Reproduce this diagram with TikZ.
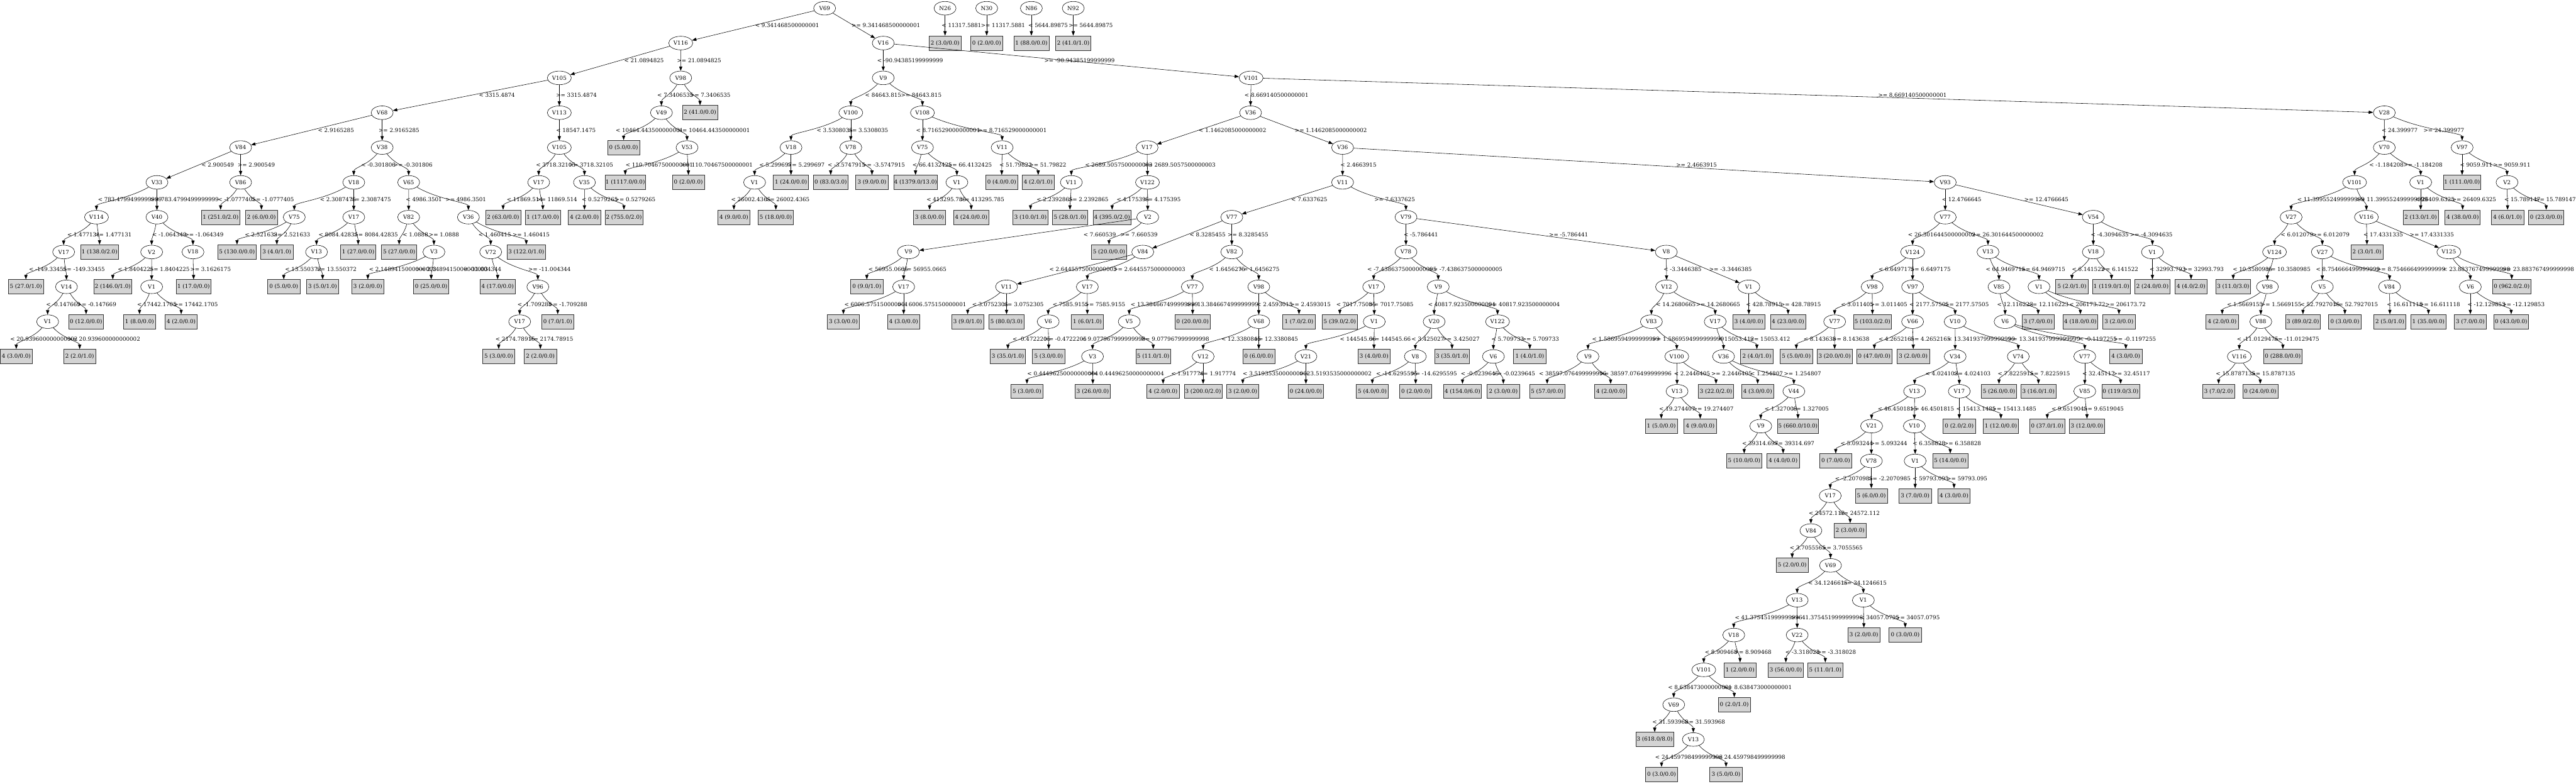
\documentclass[tikz,border=0pt]{standalone}
\usepackage{fontspec}
\setmainfont{DejaVu Serif}
\newfontfamily\tms{Liberation Serif}
\usetikzlibrary{shapes.geometric,arrows.meta,calc}
\definecolor{lgray}{HTML}{D3D3D3}
\newlength\lw
\newcommand\lbox[1]{\settowidth\lw{\tms\fontsize{14}{16}\selectfont #1}\addtolength\lw{22pt}\makebox[\lw]{#1}}
\newcounter{labc}
\newcommand\elb[3]{\stepcounter{labc}\node[elab] (lab\arabic{labc}) at (#1,#2) {#3};}
\newcommand\lfn[4]{\node[lnode] (#1) at (#2,#3) {\lbox{#4}};}
\newcommand\vnn[4]{\node[vnode] (#1) at (#2,#3) {#4};}
\newcommand\vwn[4]{\node[vnode,minimum width=60pt] (#1) at (#2,#3) {#4};}
\newcommand\eS[2]{\draw[conn] (#1) -- (#2);}
\newcommand\eC[2]{\draw[conn] (#1) .. controls ($(#1)!0.5!(#2)$) and ($(#2)+(0,-0.42)$) .. (#2);}
\tikzset{
  vnode/.style={ellipse, draw, line width=0.9pt, minimum width=55pt, minimum height=34pt, inner sep=0pt},
  lnode/.style={rectangle, draw=black!80, line width=1.1pt, fill=lgray, minimum height=36pt, inner sep=0pt},
  elab/.style={anchor=west, inner sep=0pt},
  conn/.style={-{Triangle[length=11pt,width=8pt]}, line width=0.9pt}
}
\begin{document}
\begin{tikzpicture}[x=1pt,y=-87pt,font=\fontsize{13.7}{16}\selectfont]
\fill[white] (0,-0.2368) rectangle (6434,22.269);
\useasboundingbox (0,-0.2368) rectangle (6434,22.269);
% row 0
\vnn{r}{2059.7}{0}{V69}
\vnn{n26}{2360.4}{0}{N26}
\vnn{n30}{2464.4}{0}{N30}
\vnn{n86}{2576}{0}{N86}
\vnn{n92}{2680.6}{0}{N92}
% row 1
\vwn{a116}{1700.2}{1}{V116}
\vnn{b16}{2206}{1}{V16}
\lfn{x1}{2360.4}{1}{2 (3.0/0.0)}
\lfn{x2}{2464.4}{1}{0 (2.0/0.0)}
\lfn{x3}{2576}{1}{1 (88.0/0.0)}
\lfn{x4}{2680.6}{1}{2 (41.0/1.0)}
% row 2
\vwn{a105}{1397}{2}{V105}
\vnn{a98}{1700.2}{2}{V98}
\vnn{b9}{2206}{2}{V9}
\vwn{c101}{3124.8}{2}{V101}
% row 3
\vnn{a68}{954.5}{3}{V68}
\vwn{a113}{1397}{3}{V113}
\vnn{a49}{1652}{3}{V49}
\lfn{x5}{1748.4}{3}{2 (41.0/0.0)}
\vwn{b100}{2125}{3}{V100}
\vwn{b108}{2304}{3}{V108}
\vnn{c36}{3123.5}{3}{V36}
\vnn{d28}{5955.2}{3}{V28}
% row 4
\vnn{a84}{601}{4}{V84}
\vnn{a38}{954.5}{4}{V38}
\vwn{a105b}{1397}{4}{V105}
\lfn{x6}{1557.6}{4}{0 (5.0/0.0)}
\vnn{a53}{1716}{4}{V53}
\vnn{b18}{1975.6}{4}{V18}
\vnn{b78}{2125}{4}{V78}
\vnn{b75}{2304}{4}{V75}
\vnn{b11}{2503}{4}{V11}
\vnn{c17}{2865}{4}{V17}
\vnn{c36b}{3353.3}{4}{V36}
\vnn{d70}{5955.2}{4}{V70}
\vnn{d97}{6149.5}{4}{V97}
% row 5
\vnn{a33}{392}{5}{V33}
\vnn{a86}{601}{5}{V86}
\vnn{a18}{883.6}{5}{V18}
\vnn{a65}{1020.7}{5}{V65}
\vnn{a17}{1345.5}{5}{V17}
\vnn{a35}{1459.8}{5}{V35}
\lfn{x7}{1561.7}{5}{1 (1117.0/0.0)}
\lfn{x8}{1719.4}{5}{0 (2.0/0.0)}
\vnn{b1}{1884.7}{5}{V1}
\lfn{x9}{1975.6}{5}{1 (24.0/0.0)}
\lfn{x10}{2074.8}{5}{0 (83.0/3.0)}
\lfn{x11}{2177.9}{5}{3 (9.0/0.0)}
\lfn{x12}{2286.7}{5}{4 (1379.0/13.0)}
\vnn{b1b}{2390}{5}{V1}
\lfn{x13}{2502}{5}{0 (4.0/0.0)}
\lfn{x14}{2593}{5}{4 (2.0/1.0)}
\vnn{c11}{2675.8}{5}{V11}
\vwn{c122}{2866}{5}{V122}
\vnn{c11b}{3353.3}{5}{V11}
\vnn{e93}{4858.5}{5}{V93}
\vwn{d101}{5880.9}{5}{V101}
\vnn{d1}{6046}{5}{V1}
\lfn{x15}{6149.5}{5}{1 (111.0/0.0)}
\vnn{d2}{6261.7}{5}{V2}
% row 6
\vwn{a114}{241}{6}{V114}
\vnn{a40}{392}{6}{V40}
\lfn{x16}{551}{6}{1 (251.0/2.0)}
\lfn{x17}{653}{6}{2 (6.0/0.0)}
\vnn{a75}{735}{6}{V75}
\vnn{a17b}{883.6}{6}{V17}
\vnn{a82}{1020.7}{6}{V82}
\vnn{a36}{1169.9}{6}{V36}
\lfn{x18}{1256.6}{6}{2 (63.0/0.0)}
\lfn{x19}{1355.8}{6}{1 (17.0/0.0)}
\lfn{x20}{1459.8}{6}{4 (2.0/0.0)}
\lfn{x21}{1558.3}{6}{2 (755.0/2.0)}
\lfn{x22}{1833}{6}{4 (9.0/0.0)}
\lfn{x23}{1937.8}{6}{5 (18.0/0.0)}
\lfn{x24}{2321.8}{6}{3 (8.0/0.0)}
\lfn{x25}{2425.8}{6}{4 (24.0/0.0)}
\lfn{x26}{2573.9}{6}{3 (10.0/1.0)}
\lfn{x27}{2672.4}{6}{5 (28.0/1.0)}
\lfn{x28}{2777.7}{6}{4 (395.0/2.0)}
\vnn{c2}{2866.6}{6}{V2}
\vnn{c77}{3076.6}{6}{V77}
\vnn{c79}{3511.6}{6}{V79}
\vnn{e77}{4858.5}{6}{V77}
\vnn{e54}{5228.3}{6}{V54}
\vnn{d27}{5722.4}{6}{V27}
\vwn{d116}{5910.5}{6}{V116}
\lfn{x29}{6046}{6}{2 (13.0/1.0)}
\lfn{x30}{6150.8}{6}{4 (38.0/0.0)}
\lfn{x31}{6263}{6}{4 (6.0/1.0)}
\lfn{x32}{6359.5}{6}{0 (23.0/0.0)}
% row 7
\vnn{a17c}{159}{7}{V17}
\lfn{x33}{248.6}{7}{1 (138.0/2.0)}
\vnn{a2}{378.8}{7}{V2}
\vnn{a18b}{482}{7}{V18}
\lfn{x34}{592}{7}{5 (130.0/0.0)}
\lfn{x35}{691.5}{7}{3 (4.0/1.0)}
\vnn{a13}{790.6}{7}{V13}
\lfn{x36}{894.6}{7}{1 (27.0/0.0)}
\lfn{x37}{997}{7}{5 (27.0/0.0)}
\vnn{a3}{1083.8}{7}{V3}
\vnn{a72}{1225.6}{7}{V72}
\lfn{x38}{1314.5}{7}{3 (122.0/1.0)}
\vnn{c9}{2268.8}{7}{V9}
\lfn{x39}{2770}{7}{5 (20.0/0.0)}
\vnn{c84}{2854.2}{7}{V84}
\vnn{c82}{3076.6}{7}{V82}
\vnn{c78}{3511.6}{7}{V78}
\vnn{c8}{4161.8}{7}{V8}
\vwn{e124}{4777}{7}{V124}
\vnn{e13}{4965.3}{7}{V13}
\vnn{e18}{5228.3}{7}{V18}
\vnn{e1}{5376}{7}{V1}
\vwn{d124}{5681}{7}{V124}
\vnn{d27b}{5800.3}{7}{V27}
\lfn{x40}{5911.8}{7}{2 (3.0/1.0)}
\vwn{d125}{6116.4}{7}{V125}
% row 8
\lfn{x41}{64.7}{8}{5 (27.0/1.0)}
\vnn{a14}{166}{8}{V14}
\lfn{x42}{281.7}{8}{2 (146.0/1.0)}
\vnn{a1}{378.8}{8}{V1}
\lfn{x43}{483.5}{8}{1 (17.0/0.0)}
\lfn{x44}{708.7}{8}{0 (5.0/0.0)}
\lfn{x45}{805.8}{8}{3 (5.0/1.0)}
\lfn{x46}{918.7}{8}{3 (2.0/0.0)}
\lfn{x47}{1077}{8}{0 (25.0/0.0)}
\lfn{x48}{1242.9}{8}{4 (17.0/0.0)}
\vnn{a96}{1343.4}{8}{V96}
\lfn{x49}{2165}{8}{0 (9.0/1.0)}
\vnn{c17b}{2257}{8}{V17}
\vnn{c11c}{2514}{8}{V11}
\vnn{c17c}{2715.8}{8}{V17}
\vnn{c77b}{2978}{8}{V77}
\vnn{c98}{3144}{8}{V98}
\vnn{c17d}{3431}{8}{V17}
\vnn{c9b}{3592.2}{8}{V9}
\vnn{c12}{4162.5}{8}{V12}
\vnn{c1}{4368}{8}{V1}
\vnn{e98}{4676}{8}{V98}
\vnn{e97}{4777}{8}{V97}
\vnn{e85}{4992.8}{8}{V85}
\vnn{e1b}{5092.7}{8}{V1}
\lfn{x50}{5175}{8}{5 (2.0/1.0)}
\lfn{x51}{5273.8}{8}{1 (119.0/1.0)}
\lfn{x52}{5376}{8}{2 (24.0/0.0)}
\lfn{x53}{5472.5}{8}{4 (4.0/2.0)}
\lfn{x54}{5577.8}{8}{3 (11.0/3.0)}
\vnn{d98}{5663.2}{8}{V98}
\vnn{d5}{5800.3}{8}{V5}
\vnn{d84}{5968.3}{8}{V84}
\vnn{d6}{6170}{8}{V6}
\lfn{x55}{6273.4}{8}{0 (962.0/2.0)}
% row 9
\vnn{a1b}{119}{9}{V1}
\lfn{x56}{215}{9}{0 (12.0/0.0)}
\lfn{x57}{348.5}{9}{1 (8.0/0.0)}
\lfn{x58}{452.5}{9}{4 (2.0/0.0)}
\vnn{a17d}{1298}{9}{V17}
\lfn{x59}{1393}{9}{0 (7.0/1.0)}
\lfn{x60}{2106.5}{9}{3 (3.0/0.0)}
\lfn{x61}{2257}{9}{4 (3.0/0.0)}
\lfn{x62}{2416.9}{9}{3 (9.0/1.0)}
\lfn{x63}{2514}{9}{5 (80.0/3.0)}
\vnn{c6}{2618}{9}{V6}
\lfn{x64}{2715.8}{9}{1 (6.0/1.0)}
\vnn{c5}{2820.4}{9}{V5}
\lfn{x65}{2978.8}{9}{0 (20.0/0.0)}
\vnn{c68}{3144}{9}{V68}
\lfn{x66}{3244.4}{9}{1 (7.0/2.0)}
\lfn{x67}{3346.4}{9}{5 (39.0/2.0)}
\vnn{c1b}{3432.4}{9}{V1}
\vnn{c20}{3582}{9}{V20}
\vwn{c122b}{3740.3}{9}{V122}
\vnn{c83}{4124.6}{9}{V83}
\vnn{c17e}{4284}{9}{V17}
\lfn{x68}{4368}{9}{3 (4.0/0.0)}
\lfn{x69}{4466}{9}{4 (23.0/0.0)}
\vnn{e77b}{4582.3}{9}{V77}
\lfn{x70}{4676.7}{9}{5 (103.0/2.0)}
\vnn{e66}{4777}{9}{V66}
\vnn{e10}{4883.3}{9}{V10}
\vnn{e6}{5008}{9}{V6}
\lfn{x71}{5090.6}{9}{3 (7.0/0.0)}
\lfn{x72}{5196}{9}{4 (18.0/0.0)}
\lfn{x73}{5292.4}{9}{3 (2.0/0.0)}
\lfn{x74}{5550.3}{9}{4 (2.0/0.0)}
\vnn{d88}{5646.7}{9}{V88}
\lfn{x75}{5752}{9}{3 (89.0/2.0)}
\lfn{x76}{5856.7}{9}{0 (3.0/0.0)}
\lfn{x77}{5969}{9}{2 (5.0/1.0)}
\lfn{x78}{6065.4}{9}{1 (35.0/0.0)}
\lfn{x79}{6170}{9}{3 (7.0/0.0)}
\lfn{x80}{6272}{9}{0 (43.0/0.0)}
% row 10
\lfn{x81}{40.6}{10}{4 (3.0/0.0)}
\lfn{x82}{199}{10}{2 (2.0/1.0)}
\lfn{x83}{1245.6}{10}{5 (3.0/0.0)}
\lfn{x84}{1349.6}{10}{2 (2.0/0.0)}
\lfn{x85}{2517.4}{10}{3 (35.0/1.0)}
\lfn{x86}{2619.3}{10}{5 (3.0/0.0)}
\vnn{c3}{2728.8}{10}{V3}
\lfn{x87}{2880.3}{10}{5 (11.0/1.0)}
\vnn{c12b}{3005}{10}{V12}
\lfn{x88}{3144}{10}{0 (6.0/0.0)}
\vnn{c21}{3261.7}{10}{V21}
\lfn{x89}{3431.8}{10}{3 (4.0/0.0)}
\vnn{c8b}{3535}{10}{V8}
\lfn{x90}{3626.7}{10}{3 (35.0/1.0)}
\vnn{c6b}{3730}{10}{V6}
\lfn{x91}{3820.9}{10}{1 (4.0/1.0)}
\vnn{c9c}{3966.2}{10}{V9}
\vwn{c100}{4188}{10}{V100}
\vnn{c36c}{4304.8}{10}{V36}
\lfn{x92}{4388}{10}{2 (4.0/1.0)}
\lfn{x93}{4486.6}{10}{5 (5.0/0.0)}
\lfn{x94}{4582.3}{10}{3 (20.0/0.0)}
\lfn{x95}{4681.5}{10}{0 (47.0/0.0)}
\lfn{x96}{4778.6}{10}{3 (2.0/0.0)}
\vnn{e34}{4883.3}{10}{V34}
\vnn{e74}{5041}{10}{V74}
\vnn{e77c}{5207}{10}{V77}
\lfn{x97}{5309.6}{10}{4 (3.0/0.0)}
\vwn{d116b}{5593}{10}{V116}
\lfn{x98}{5701.8}{10}{0 (288.0/0.0)}
% row 11
\lfn{x99}{2565}{11}{5 (3.0/0.0)}
\lfn{x100}{2729.5}{11}{3 (26.0/0.0)}
\lfn{x101}{2905}{11}{4 (2.0/0.0)}
\lfn{x102}{3005}{11}{3 (200.0/2.0)}
\lfn{x103}{3104}{11}{3 (2.0/0.0)}
\lfn{x104}{3261.7}{11}{0 (24.0/0.0)}
\lfn{x105}{3427.6}{11}{5 (4.0/0.0)}
\lfn{x106}{3535.8}{11}{0 (2.0/0.0)}
\lfn{x107}{3652.8}{11}{4 (154.0/6.0)}
\lfn{x108}{3754.8}{11}{2 (3.0/0.0)}
\lfn{x109}{3864.3}{11}{5 (57.0/0.0)}
\lfn{x110}{4022.7}{11}{4 (2.0/0.0)}
\vnn{c13}{4188.7}{11}{V13}
\lfn{x111}{4286}{11}{3 (22.0/2.0)}
\lfn{x112}{4390}{11}{4 (3.0/0.0)}
\vnn{c44}{4480.4}{11}{V44}
\vnn{e13b}{4782}{11}{V13}
\vnn{e17}{4893.6}{11}{V17}
\lfn{x113}{4992.8}{11}{5 (26.0/0.0)}
\lfn{x114}{5091.3}{11}{3 (16.0/1.0)}
\vnn{e85b}{5207}{11}{V85}
\lfn{x115}{5296.5}{11}{0 (119.0/3.0)}
\lfn{x116}{5541.3}{11}{3 (7.0/2.0)}
\lfn{x117}{5645.3}{11}{0 (24.0/0.0)}
% row 12
\lfn{x118}{4149.4}{12}{1 (5.0/0.0)}
\lfn{x119}{4246.5}{12}{4 (9.0/0.0)}
\vnn{c9d}{4397.8}{12}{V9}
\lfn{x120}{4490.7}{12}{5 (660.0/10.0)}
\vnn{e21}{4674.6}{12}{V21}
\vnn{e10b}{4781.4}{12}{V10}
\lfn{x121}{4893.6}{12}{0 (2.0/2.0)}
\lfn{x122}{4997.6}{12}{1 (12.0/0.0)}
\lfn{x123}{5113.3}{12}{0 (37.0/1.0)}
\lfn{x124}{5212.5}{12}{3 (12.0/0.0)}
% row 13
\lfn{x125}{4356.4}{13}{5 (10.0/0.0)}
\lfn{x126}{4453.6}{13}{4 (4.0/0.0)}
\lfn{x127}{4585}{13}{0 (7.0/0.0)}
\vnn{e78}{4674}{13}{V78}
\vnn{e1c}{4783.4}{13}{V1}
\lfn{x128}{4871}{13}{5 (14.0/0.0)}
% row 14
\vnn{e17b}{4571.3}{14}{V17}
\lfn{x129}{4674}{14}{5 (6.0/0.0)}
\lfn{x130}{4783.4}{14}{3 (7.0/0.0)}
\lfn{x131}{4880.5}{14}{4 (3.0/0.0)}
% row 15
\vnn{e84}{4523}{15}{V84}
\lfn{x132}{4621}{15}{2 (3.0/0.0)}
% row 16
\lfn{x133}{4476.3}{16}{5 (2.0/0.0)}
\vnn{e69}{4572}{16}{V69}
% row 17
\vnn{e13c}{4488.7}{17}{V13}
\vnn{e1d}{4654}{17}{V1}
% row 18
\vnn{e18b}{4330.3}{18}{V18}
\vnn{e22}{4488.7}{18}{V22}
\lfn{x134}{4655.3}{18}{3 (2.0/0.0)}
\lfn{x135}{4758.6}{18}{0 (3.0/0.0)}
% row 19
\vwn{e101}{4255.4}{19}{V101}
\lfn{x136}{4346}{19}{1 (2.0/0.0)}
\lfn{x137}{4460.4}{19}{3 (56.0/0.0)}
\lfn{x138}{4559}{19}{5 (11.0/1.0)}
% row 20
\vnn{e69b}{4180.4}{20}{V69}
\lfn{x139}{4331.6}{20}{0 (2.0/1.0)}
% row 21
\lfn{x140}{4132.9}{21}{3 (618.0/8.0)}
\vnn{e13d}{4229.3}{21}{V13}
% row 22
\lfn{x141}{4150}{22}{0 (3.0/0.0)}
\lfn{x142}{4311}{22}{3 (5.0/0.0)}
% ---------------- edges
\eS{r}{a116} \eS{r}{b16}
\eC{n26}{x1} \eC{n30}{x2} \eC{n86}{x3} \eC{n92}{x4}
\eS{a116}{a105} \eC{a116}{a98}
\eC{b16}{b9} \eS{b16}{c101}
\eS{a105}{a68} \eC{a105}{a113}
\eC{a98}{a49} \eC{a98}{x5}
\eC{b9}{b100} \eC{b9}{b108}
\eC{c101}{c36} \eS{c101}{d28}
\eS{a68}{a84} \eC{a68}{a38}
\eC{a113}{a105b}
\eC{a49}{x6} \eC{a49}{a53}
\eC{b100}{b18} \eC{b100}{b78}
\eC{b108}{b75} \eC{b108}{b11}
\eS{c36}{c17} \eS{c36}{c36b}
\eC{d28}{d70} \eC{d28}{d97}
\eS{a84}{a33} \eC{a84}{a86}
\eC{a38}{a18} \eC{a38}{a65}
\eC{a105b}{a17} \eC{a105b}{a35}
\eC{a53}{x7} \eC{a53}{x8}
\eC{b18}{b1} \eC{b18}{x9}
\eC{b78}{x10} \eC{b78}{x11}
\eC{b75}{x12} \eC{b75}{b1b}
\eC{b11}{x13} \eC{b11}{x14}
\eC{c17}{c11} \eC{c17}{c122}
\eC{c36b}{c11b} \eS{c36b}{e93}
\eC{d70}{d101} \eC{d70}{d1}
\eC{d97}{x15} \eC{d97}{d2}
\eC{a33}{a114} \eC{a33}{a40}
\eC{a86}{x16} \eC{a86}{x17}
\eC{a18}{a75} \eC{a18}{a17b}
\eC{a65}{a82} \eC{a65}{a36}
\eC{a17}{x18} \eC{a17}{x19}
\eC{a35}{x20} \eC{a35}{x21}
\eC{b1}{x22} \eC{b1}{x23}
\eC{b1b}{x24} \eC{b1b}{x25}
\eC{c11}{x26} \eC{c11}{x27}
\eC{c122}{x28} \eC{c122}{c2}
\eS{c11b}{c77} \eC{c11b}{c79}
\eC{e93}{e77} \eS{e93}{e54}
\eC{d101}{d27} \eC{d101}{d116}
\eC{d1}{x29} \eC{d1}{x30}
\eC{d2}{x31} \eC{d2}{x32}
\eC{a114}{a17c} \eC{a114}{x33}
\eC{a40}{a2} \eC{a40}{a18b}
\eC{a75}{x34} \eC{a75}{x35}
\eC{a17b}{a13} \eC{a17b}{x36}
\eC{a82}{x37} \eC{a82}{a3}
\eC{a36}{a72} \eC{a36}{x38}
\eS{c2}{c9} \eC{c2}{x39}
\eS{c77}{c84} \eC{c77}{c82}
\eC{c79}{c78} \eS{c79}{c8}
\eC{e77}{e124} \eC{e77}{e13}
\eC{e54}{e18} \eC{e54}{e1}
\eC{d27}{d124} \eC{d27}{d27b}
\eC{d116}{x40} \eS{d116}{d125}
\eC{a17c}{x41} \eC{a17c}{a14}
\eC{a2}{x42} \eC{a2}{a1}
\eC{a18b}{x43}
\eC{a13}{x44} \eC{a13}{x45}
\eC{a3}{x46} \eC{a3}{x47}
\eC{a72}{x48} \eC{a72}{a96}
\eC{c9}{x49} \eC{c9}{c17b}
\eS{c84}{c11c} \eC{c84}{c17c}
\eC{c82}{c77b} \eC{c82}{c98}
\eC{c78}{c17d} \eC{c78}{c9b}
\eC{c8}{c12} \eS{c8}{c1}
\eC{e124}{e98} \eC{e124}{e97}
\eC{e13}{e85} \eC{e13}{e1b}
\eC{e18}{x50} \eC{e18}{x51}
\eC{e1}{x52} \eC{e1}{x53}
\eC{d124}{x54} \eC{d124}{d98}
\eC{d27b}{d5} \eC{d27b}{d84}
\eC{d125}{d6} \eC{d125}{x55}
\eC{a14}{a1b} \eC{a14}{x56}
\eC{a1}{x57} \eC{a1}{x58}
\eC{a96}{a17d} \eC{a96}{x59}
\eC{c17b}{x60} \eC{c17b}{x61}
\eC{c11c}{x62} \eC{c11c}{x63}
\eC{c17c}{c6} \eC{c17c}{x64}
\eC{c77b}{c5} \eC{c77b}{x65}
\eC{c98}{c68} \eC{c98}{x66}
\eC{c17d}{x67} \eC{c17d}{c1b}
\eC{c9b}{c20} \eC{c9b}{c122b}
\eC{c12}{c83} \eC{c12}{c17e}
\eC{c1}{x68} \eC{c1}{x69}
\eC{e98}{e77b} \eC{e98}{x70}
\eC{e97}{e66} \eC{e97}{e10}
\eC{e85}{e6} \eC{e85}{x71}
\eC{e1b}{x72} \eC{e1b}{x73}
\eC{d98}{x74} \eC{d98}{d88}
\eC{d5}{x75} \eC{d5}{x76}
\eC{d84}{x77} \eC{d84}{x78}
\eC{d6}{x79} \eC{d6}{x80}
\eC{a1b}{x81} \eC{a1b}{x82}
\eC{a17d}{x83} \eC{a17d}{x84}
\eC{c6}{x85} \eC{c6}{x86}
\eC{c5}{c3} \eC{c5}{x87}
\eC{c68}{c12b} \eC{c68}{x88}
\eC{c1b}{c21} \eC{c1b}{x89}
\eC{c20}{c8b} \eC{c20}{x90}
\eC{c122b}{c6b} \eC{c122b}{x91}
\eC{c83}{c9c} \eC{c83}{c100}
\eC{c17e}{c36c} \eC{c17e}{x92}
\eC{e77b}{x93} \eC{e77b}{x94}
\eC{e66}{x95} \eC{e66}{x96}
\eC{e10}{e34} \eC{e10}{e74}
\eC{e6}{e77c} \eC{e6}{x97}
\eC{d88}{d116b} \eC{d88}{x98}
\eC{c3}{x99} \eC{c3}{x100}
\eC{c12b}{x101} \eC{c12b}{x102}
\eC{c21}{x103} \eC{c21}{x104}
\eC{c8b}{x105} \eC{c8b}{x106}
\eC{c6b}{x107} \eC{c6b}{x108}
\eC{c9c}{x109} \eC{c9c}{x110}
\eC{c100}{c13} \eC{c100}{x111}
\eC{c36c}{x112} \eC{c36c}{c44}
\eC{e34}{e13b} \eC{e34}{e17}
\eC{e74}{x113} \eC{e74}{x114}
\eC{e77c}{e85b} \eC{e77c}{x115}
\eC{d116b}{x116} \eC{d116b}{x117}
\eC{c13}{x118} \eC{c13}{x119}
\eC{c44}{c9d} \eC{c44}{x120}
\eC{e13b}{e21} \eC{e13b}{e10b}
\eC{e17}{x121} \eC{e17}{x122}
\eC{e85b}{x123} \eC{e85b}{x124}
\eC{c9d}{x125} \eC{c9d}{x126}
\eC{e21}{x127} \eC{e21}{e78}
\eC{e10b}{e1c} \eC{e10b}{x128}
\eC{e78}{e17b} \eC{e78}{x129}
\eC{e1c}{x130} \eC{e1c}{x131}
\eC{e17b}{e84} \eC{e17b}{x132}
\eC{e84}{x133} \eC{e84}{e69}
\eC{e69}{e13c} \eC{e69}{e1d}
\eC{e13c}{e18b} \eC{e13c}{e22}
\eC{e1d}{x134} \eC{e1d}{x135}
\eC{e18b}{e101} \eC{e18b}{x136}
\eC{e22}{x137} \eC{e22}{x138}
\eC{e101}{e69b} \eC{e101}{x139}
\eC{e69b}{x140} \eC{e69b}{e13d}
\eC{e13d}{x141} \eC{e13d}{x142}
% ---------------- labels
% 0.5
\elb{1886}{0.5}{< 9.341468500000001}
\elb{2127}{0.5}{>= 9.341468500000001}
\elb{2352}{0.5}{< 11317.5881}
\elb{2450}{0.5}{>= 11317.5881}
\elb{2568.4}{0.5}{< 5644.89875}
\elb{2669}{0.5}{>= 5644.89875}
% 1.5
\elb{1559}{1.5}{< 21.0894825}
\elb{1691}{1.5}{>= 21.0894825}
\elb{2191}{1.5}{< -90.94385199999999}
\elb{2608.3}{1.5}{>= -90.94385199999999}
% 2.5
\elb{1196}{2.5}{< 3315.4874}
\elb{1388.9}{2.5}{>= 3315.4874}
\elb{1641.6}{2.5}{< 7.3406535}
\elb{1722.9}{2.5}{>= 7.3406535}
\elb{2160.7}{2.5}{< 84643.815}
\elb{2250}{2.5}{>= 84643.815}
\elb{3108.3}{2.5}{< 8.669140500000001}
\elb{4691}{2.5}{>= 8.669140500000001}
% 3.5
\elb{794}{3.5}{< 2.9165285}
\elb{945.6}{3.5}{>= 2.9165285}
\elb{1388.9}{3.5}{< 18547.1475}
\elb{1537.6}{3.5}{< 10464.443500000001}
\elb{1693}{3.5}{>= 10464.443500000001}
\elb{2039.7}{3.5}{< 3.5308035}
\elb{2116.8}{3.5}{>= 3.5308035}
\elb{2288}{3.5}{< 8.716529000000001}
\elb{2443}{3.5}{>= 8.716529000000001}
\elb{2994}{3.5}{< 1.1462085000000002}
\elb{3234}{3.5}{>= 1.1462085000000002}
\elb{5948.4}{3.5}{< 24.399977}
\elb{6053}{3.5}{>= 24.399977}
% 4.5
\elb{503}{4.5}{< 2.900549}
\elb{593.7}{4.5}{>= 2.900549}
\elb{902}{4.5}{< -0.301806}
\elb{982.8}{4.5}{>= -0.301806}
\elb{1338.6}{4.5}{< 3718.32105}
\elb{1421}{4.5}{>= 3718.32105}
\elb{1562.4}{4.5}{< 110.70467500000001}
\elb{1700}{4.5}{>= 110.70467500000001}
\elb{1896.4}{4.5}{< 5.299697}
\elb{1966.7}{4.5}{>= 5.299697}
\elb{2067}{4.5}{< -3.5747915}
\elb{2154}{4.5}{>= -3.5747915}
\elb{2279}{4.5}{< 66.4132425}
\elb{2367}{4.5}{>= 66.4132425}
\elb{2496}{4.5}{< 51.79822}
\elb{2570.4}{4.5}{>= 51.79822}
\elb{2710}{4.5}{< 2689.5057500000003}
\elb{2856}{4.5}{>= 2689.5057500000003}
\elb{3347.7}{4.5}{< 2.4663915}
\elb{4186.6}{4.5}{>= 2.4663915}
\elb{5917.4}{4.5}{< -1.184208}
\elb{6002.8}{4.5}{>= -1.184208}
\elb{6144}{4.5}{< 9059.911}
\elb{6227.3}{4.5}{>= 9059.911}
% 5.5
\elb{244.5}{5.5}{< 783.4799499999999}
\elb{375}{5.5}{>= 783.4799499999999}
\elb{544}{5.5}{< -1.0777405}
\elb{628}{5.5}{>= -1.0777405}
\elb{799}{5.5}{< 2.3087475}
\elb{875}{5.5}{>= 2.3087475}
\elb{1013.7}{5.5}{< 4986.3501}
\elb{1112.7}{5.5}{>= 4986.3501}
\elb{1265.6}{5.5}{< 11869.514}
\elb{1340}{5.5}{>= 11869.514}
\elb{1453}{5.5}{< 0.5279265}
\elb{1535.6}{5.5}{>= 0.5279265}
\elb{1826}{5.5}{< 26002.4365}
\elb{1911.6}{5.5}{>= 26002.4365}
\elb{2314}{5.5}{< 413295.785}
\elb{2398}{5.5}{>= 413295.785}
\elb{2589}{5.5}{< 2.2392865}
\elb{2667}{5.5}{>= 2.2392865}
\elb{2788.8}{5.5}{< 4.175395}
\elb{2856}{5.5}{>= 4.175395}
\elb{3225}{5.5}{< 7.6337625}
\elb{3432.4}{5.5}{>= 7.6337625}
\elb{4850}{5.5}{< 12.4766645}
\elb{5056}{5.5}{>= 12.4766645}
\elb{5737.6}{5.5}{< 11.399552499999999}
\elb{5884}{5.5}{>= 11.399552499999999}
\elb{6032}{5.5}{< 26409.6325}
\elb{6124}{5.5}{>= 26409.6325}
\elb{6254.8}{5.5}{< 15.789147}
\elb{6332}{5.5}{>= 15.789147}
% 6.5
\elb{168}{6.5}{< 1.477131}
\elb{236}{6.5}{>= 1.477131}
\elb{380}{6.5}{< -1.064349}
\elb{461}{6.5}{>= -1.064349}
\elb{611.6}{6.5}{< 2.521633}
\elb{681.8}{6.5}{>= 2.521633}
\elb{795.5}{6.5}{< 8084.42835}
\elb{883.6}{6.5}{>= 8084.42835}
\elb{1005.5}{6.5}{< 1.0888}
\elb{1071}{6.5}{>= 1.0888}
\elb{1195}{6.5}{< 1.460415}
\elb{1280}{6.5}{>= 1.460415}
\elb{2706}{6.5}{< 7.660539}
\elb{2798.4}{6.5}{>= 7.660539}
\elb{2971}{6.5}{< 8.3285455}
\elb{3066.3}{6.5}{>= 8.3285455}
\elb{3506}{6.5}{< -5.786441}
\elb{3869}{6.5}{>= -5.786441}
\elb{4765.5}{6.5}{< 26.301644500000002}
\elb{4924}{6.5}{>= 26.301644500000002}
\elb{5222}{6.5}{< -4.3094635}
\elb{5320}{6.5}{>= -4.3094635}
\elb{5696.3}{6.5}{< 6.012079}
\elb{5775.5}{6.5}{>= 6.012079}
\elb{5903}{6.5}{< 17.4331335}
\elb{6018.6}{6.5}{>= 17.4331335}
% 7.5
\elb{72.3}{7.5}{< -149.33455}
\elb{155.6}{7.5}{>= -149.33455}
\elb{294}{7.5}{< 1.8404225}
\elb{372}{7.5}{>= 1.8404225}
\elb{475}{7.5}{>= 3.1626175}
\elb{712}{7.5}{< 13.550372}
\elb{789}{7.5}{>= 13.550372}
\elb{921.5}{7.5}{< 2.1489415000000003}
\elb{1039}{7.5}{>= 2.1489415000000003}
\elb{1157.5}{7.5}{< -11.004344}
\elb{1319.3}{7.5}{>= -11.004344}
\elb{2169}{7.5}{< 56955.0665}
\elb{2253.6}{7.5}{>= 56955.0665}
\elb{2620.7}{7.5}{< 2.6445575000000003}
\elb{2780.5}{7.5}{>= 2.6445575000000003}
\elb{3020}{7.5}{< 1.6456275}
\elb{3094}{7.5}{>= 1.6456275}
\elb{3415}{7.5}{< -7.4386375000000005}
\elb{3568}{7.5}{>= -7.4386375000000005}
\elb{4155}{7.5}{< -3.3446385}
\elb{4269}{7.5}{>= -3.3446385}
\elb{4691.8}{7.5}{< 6.6497175}
\elb{4770.4}{7.5}{>= 6.6497175}
\elb{4959.8}{7.5}{< 64.9469715}
\elb{5048}{7.5}{>= 64.9469715}
\elb{5175}{7.5}{< 6.141522}
\elb{5247.6}{7.5}{>= 6.141522}
\elb{5369}{7.5}{< 32993.793}
\elb{5452.5}{7.5}{>= 32993.793}
\elb{5576.5}{7.5}{< 10.3580985}
\elb{5660.5}{7.5}{>= 10.3580985}
\elb{5784.4}{7.5}{< 8.754666499999999}
\elb{5936}{7.5}{>= 8.754666499999999}
\elb{6101}{7.5}{< 23.883767499999998}
\elb{6249}{7.5}{>= 23.883767499999998}
% 8.5
\elb{115}{8.5}{< -0.147669}
\elb{192.8}{8.5}{>= -0.147669}
\elb{342.3}{8.5}{< 17442.1705}
\elb{433.9}{8.5}{>= 17442.1705}
\elb{1292.4}{8.5}{< -1.709288}
\elb{1369.6}{8.5}{>= -1.709288}
\elb{2108.6}{8.5}{< 6006.575150000001}
\elb{2242}{8.5}{>= 6006.575150000001}
\elb{2428}{8.5}{< 3.0752305}
\elb{2505}{8.5}{>= 3.0752305}
\elb{2629}{8.5}{< 7585.9155}
\elb{2709}{8.5}{>= 7585.9155}
\elb{2824}{8.5}{< 13.384667499999999}
\elb{2963}{8.5}{>= 13.384667499999999}
\elb{3138.6}{8.5}{< 2.4593015}
\elb{3222}{8.5}{>= 2.4593015}
\elb{3337.4}{8.5}{< 7017.75085}
\elb{3420}{8.5}{>= 7017.75085}
\elb{3566.7}{8.5}{< 40817.923500000004}
\elb{3716}{8.5}{>= 40817.923500000004}
\elb{4136.3}{8.5}{< 14.2680665}
\elb{4236}{8.5}{>= 14.2680665}
\elb{4361}{8.5}{< 428.78915}
\elb{4446.7}{8.5}{>= 428.78915}
\elb{4598}{8.5}{< 3.011405}
\elb{4671}{8.5}{>= 3.011405}
\elb{4769}{8.5}{< 2177.57505}
\elb{4857}{8.5}{>= 2177.57505}
\elb{4988}{8.5}{< 12.116223}
\elb{5065}{8.5}{>= 12.116223}
\elb{5168.4}{8.5}{< 206173.72}
\elb{5258}{8.5}{>= 206173.72}
\elb{5562}{8.5}{< 1.5669155}
\elb{5646.7}{8.5}{>= 1.5669155}
\elb{5745}{8.5}{< 52.7927015}
\elb{5829.2}{8.5}{>= 52.7927015}
\elb{5961.4}{8.5}{< 16.611118}
\elb{6042.7}{8.5}{>= 16.611118}
\elb{6163}{8.5}{< -12.129853}
\elb{6249.3}{8.5}{>= -12.129853}
% 9.5
\elb{25.5}{9.5}{< 20.939600000000002}
\elb{170}{9.5}{>= 20.939600000000002}
\elb{1237.4}{9.5}{< 2174.78915}
\elb{1321.4}{9.5}{>= 2174.78915}
\elb{2529}{9.5}{< -0.4722205}
\elb{2608}{9.5}{>= -0.4722205}
\elb{2701}{9.5}{< 9.077967999999998}
\elb{2849}{9.5}{>= 9.077967999999998}
\elb{3050.5}{9.5}{< 12.3380845}
\elb{3131.7}{9.5}{>= 12.3380845}
\elb{3346.4}{9.5}{< 144545.66}
\elb{3422}{9.5}{>= 144545.66}
\elb{3525.4}{9.5}{< 3.425027}
\elb{3602.6}{9.5}{>= 3.425027}
\elb{3725}{9.5}{< 5.709733}
\elb{3800.9}{9.5}{>= 5.709733}
\elb{3976.5}{9.5}{< 1.5869594999999999}
\elb{4126}{9.5}{>= 1.5869594999999999}
\elb{4291}{9.5}{< 15053.412}
\elb{4369.5}{9.5}{>= 15053.412}
\elb{4504.5}{9.5}{< 8.143638}
\elb{4576}{9.5}{>= 8.143638}
\elb{4691.8}{9.5}{< 4.2652165}
\elb{4770}{9.5}{>= 4.2652165}
\elb{4864}{9.5}{< 13.341937999999999}
\elb{5015.5}{9.5}{>= 13.341937999999999}
\elb{5192.5}{9.5}{< -0.1197255}
\elb{5278.6}{9.5}{>= -0.1197255}
\elb{5586.8}{9.5}{< -11.0129475}
\elb{5677.7}{9.5}{>= -11.0129475}
% 10.5
\elb{2565.6}{10.5}{< 0.44496250000000004}
\elb{2718.5}{10.5}{>= 0.44496250000000004}
\elb{2925}{10.5}{< 1.917774}
\elb{2994}{10.5}{>= 1.917774}
\elb{3104}{10.5}{< 3.5193535000000002}
\elb{3245.6}{10.5}{>= 3.5193535000000002}
\elb{3437}{10.5}{< -14.6295595}
\elb{3524}{10.5}{>= -14.6295595}
\elb{3648.7}{10.5}{< -0.0239645}
\elb{3728}{10.5}{>= -0.0239645}
\elb{3843.6}{10.5}{< 38597.076499999996}
\elb{3995}{10.5}{>= 38597.076499999996}
\elb{4181}{10.5}{< 2.2446405}
\elb{4274}{10.5}{>= 2.2446405}
\elb{4371.6}{10.5}{< 1.254807}
\elb{4455.6}{10.5}{>= 1.254807}
\elb{4809}{10.5}{< 4.024103}
\elb{4879}{10.5}{>= 4.024103}
\elb{4989.4}{10.5}{< 7.8225915}
\elb{5068.6}{10.5}{>= 7.8225915}
\elb{5200.8}{10.5}{< 32.45117}
\elb{5277}{10.5}{>= 32.45117}
\elb{5534.4}{10.5}{< 15.8787135}
\elb{5622.6}{10.5}{>= 15.8787135}
% 11.5
\elb{4143.9}{11.5}{< 19.274407}
\elb{4228}{11.5}{>= 19.274407}
\elb{4407.4}{11.5}{< 1.327005}
\elb{4475}{11.5}{>= 1.327005}
\elb{4689.8}{11.5}{< 46.4501815}
\elb{4770.4}{11.5}{>= 46.4501815}
\elb{4886}{11.5}{< 15413.1485}
\elb{4975.6}{11.5}{>= 15413.1485}
\elb{5123.7}{11.5}{< 9.6519045}
\elb{5202.8}{11.5}{>= 9.6519045}
% 12.5
\elb{4351}{12.5}{< 39314.697}
\elb{4430}{12.5}{>= 39314.697}
\elb{4596.8}{12.5}{< 5.093244}
\elb{4671}{12.5}{>= 5.093244}
\elb{4777}{12.5}{< 6.358828}
\elb{4855}{12.5}{>= 6.358828}
% 13.5
\elb{4583}{13.5}{< -2.2070985}
\elb{4665.7}{13.5}{>= -2.2070985}
\elb{4777}{13.5}{< 59793.095}
\elb{4862}{13.5}{>= 59793.095}
% 14.5
\elb{4517.6}{14.5}{< 24572.112}
\elb{4593.4}{14.5}{>= 24572.112}
% 15.5
\elb{4470}{15.5}{< 3.7055565}
\elb{4550.7}{15.5}{>= 3.7055565}
% 16.5
\elb{4516}{16.5}{< 34.1246615}
\elb{4602}{16.5}{>= 34.1246615}
% 17.5
\elb{4333}{17.5}{< 41.375451999999996}
\elb{4472.8}{17.5}{>= 41.375451999999996}
\elb{4645}{17.5}{< 34057.0795}
\elb{4734.5}{17.5}{>= 34057.0795}
% 18.5
\elb{4258}{18.5}{< 8.909468}
\elb{4331.6}{18.5}{>= 8.909468}
\elb{4459}{18.5}{< -3.318028}
\elb{4538}{18.5}{>= -3.318028}
% 19.5
\elb{4166}{19.5}{< 8.638473000000001}
\elb{4304}{19.5}{>= 8.638473000000001}
% 20.5
\elb{4127}{20.5}{< 31.593968}
\elb{4207}{20.5}{>= 31.593968}
% 21.5
\elb{4134}{21.5}{< 24.459798499999998}
\elb{4279}{21.5}{>= 24.459798499999998}
\end{tikzpicture}
\end{document}
